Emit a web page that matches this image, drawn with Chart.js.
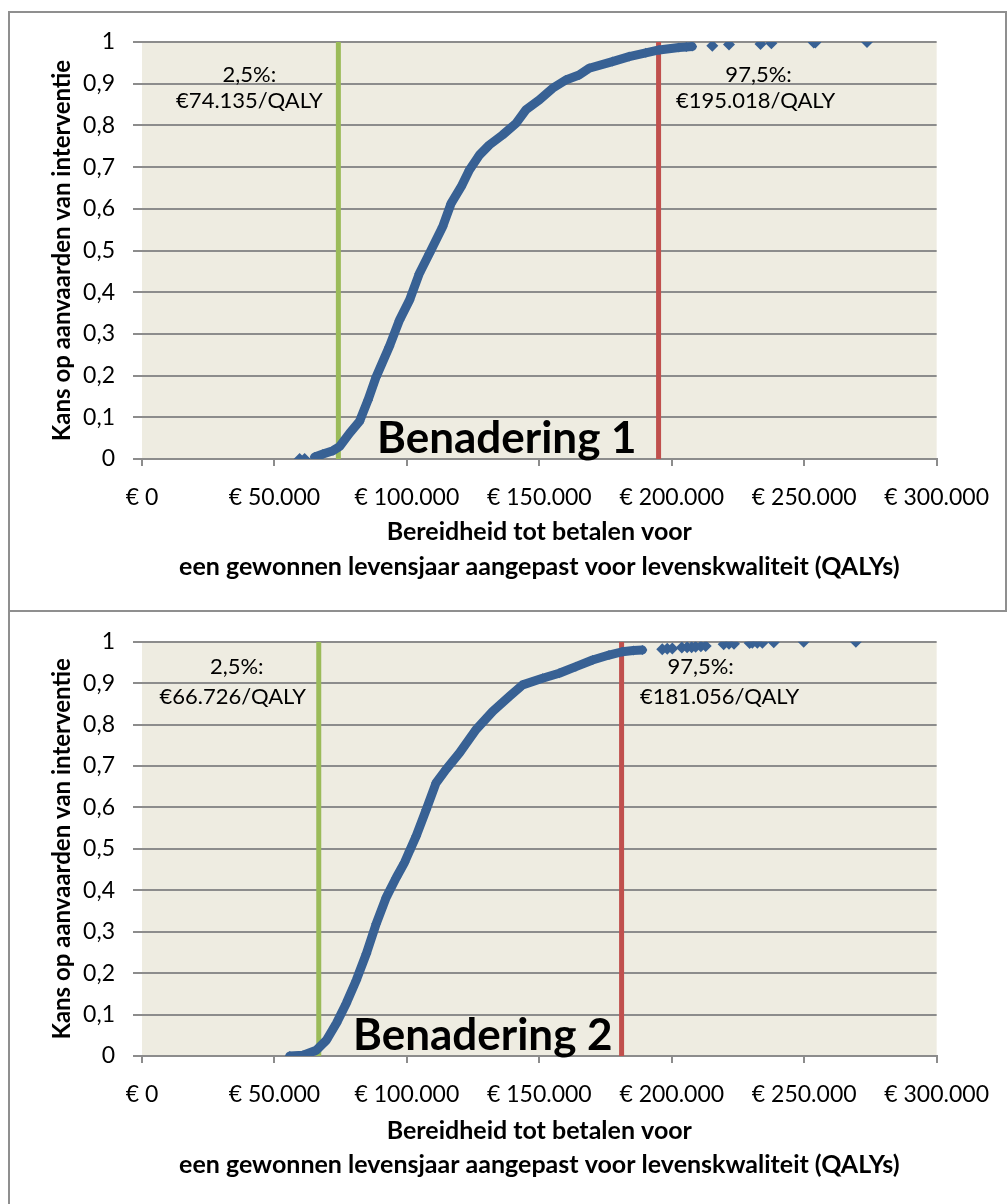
<!DOCTYPE html>
<html>
<head>
<meta charset="utf-8">
<title>Kans op aanvaarden van interventie</title>
<script src="https://cdn.jsdelivr.net/npm/chart.js@4.4.1/dist/chart.umd.min.js"></script>
<style>
  html, body { margin: 0; padding: 0; background: #fff; }
  body { position: relative; width: 1007px; height: 1204px; overflow: hidden; }
  canvas { position: absolute; left: 0; }
  #c1 { top: 0; }
  #c2 { top: 610px; }
  .box { position: absolute; border: 2px solid #8f8f8f; box-sizing: border-box; }
  #box1 { left: 8px; top: 11px; width: 999px; height: 601px; }
  #box2 { left: 8px; top: 610px; width: 1010px; height: 610px; }
</style>
</head>
<body>
<div class="box" id="box1"></div>
<div class="box" id="box2"></div>
<canvas id="c1" width="1007" height="610"></canvas>
<canvas id="c2" width="1007" height="594"></canvas>
<script>
// tick labels
const xTicks = [0, 50000, 100000, 150000, 200000, 250000, 300000];
const yTicks = [0, 0.1, 0.2, 0.3, 0.4, 0.5, 0.6, 0.7, 0.8, 0.9, 1];

// Benadering 1: dense part of the curve (WTP in euro, cumulative probability)
const wtp1 = [65200, 68300, 72100, 74600, 78400, 82100, 85300, 88400, 93400, 97200,
  101000, 104700, 108500, 113500, 116700, 120500, 123600, 127400, 131100, 136100,
  141200, 144900, 150000, 155000, 160000, 165000, 168800, 177600, 183900, 190200,
  195200, 202700, 205500, 207700];
const prob1 = [0.005, 0.012, 0.02, 0.03, 0.062, 0.09, 0.141, 0.197, 0.27, 0.333,
  0.381, 0.445, 0.493, 0.557, 0.613, 0.653, 0.693, 0.729, 0.753, 0.777,
  0.805, 0.837, 0.861, 0.889, 0.909, 0.921, 0.937, 0.953, 0.965, 0.974,
  0.981, 0.987, 0.988, 0.989];
// Benadering 1: loose simulation points
const wtp1Loose = [59500, 61400, 215300, 221600, 233500, 237600, 253600, 254200, 273700];
const prob1Loose = [0, 0, 0.991, 0.994, 0.995, 0.997, 0.999, 0.999, 1];

// Benadering 2
const wtp2 = [55800, 60800, 65800, 69600, 73400, 77100, 80900, 84700, 88400, 92200,
  96000, 99100, 101000, 103500, 107300, 111000, 114800, 119800, 126100, 132400,
  138700, 143700, 151200, 157500, 163800, 170100, 176300, 181300, 185500, 188900];
const prob2 = [0, 0.002, 0.014, 0.038, 0.079, 0.127, 0.183, 0.247, 0.319, 0.383,
  0.431, 0.467, 0.495, 0.531, 0.595, 0.659, 0.692, 0.731, 0.788, 0.832,
  0.868, 0.896, 0.912, 0.924, 0.94, 0.956, 0.968, 0.976, 0.979, 0.98];
const wtp2Loose = [196400, 198300, 200200, 203800, 205800, 207500, 209000, 211000, 212800,
  219600, 221600, 223500, 229400, 230400, 232300, 234200, 238500, 249800, 269500];
const prob2Loose = [0.982, 0.983, 0.984, 0.986, 0.987, 0.987, 0.988, 0.989, 0.99,
  0.994, 0.995, 0.995, 0.997, 0.998, 0.998, 0.998, 0.999, 1, 1];

// 2,5% and 97,5% percentiles
const lower1 = 74135, upper1 = 195018;
const lower2 = 66726, upper2 = 181056;

const blue = "#386194";
const fontFamily = "Lato, 'Open Sans', sans-serif";

function toPoints(xs, ys) {
  return xs.map((x, i) => ({ x: x, y: ys[i] }));
}

function euro(v) {
  return "€ " + String(v).replace(/\B(?=(\d{3})+(?!\d))/g, ".");
}

function euroLabel(v) {
  return "€" + String(v).replace(/\B(?=(\d{3})+(?!\d))/g, ".") + "/QALY";
}

const plotBackground = {
  id: "plotBackground",
  beforeDraw(chart) {
    const { ctx, chartArea } = chart;
    ctx.save();
    ctx.fillStyle = "#EEECE1";
    ctx.fillRect(chartArea.left, chartArea.top, chartArea.right - chartArea.left, chartArea.bottom - chartArea.top);
    ctx.restore();
  },
};

const chartTexts = {
  id: "chartTexts",
  afterDraw(chart, args, opts) {
    const { ctx, scales, chartArea } = chart;
    const x = scales.x;
    ctx.save();
    ctx.fillStyle = "#000";
    ctx.textBaseline = "middle";
    ctx.textAlign = "center";

    // percentile labels
    ctx.font = "22px " + fontFamily;
    const lx = x.getPixelForValue(opts.lower);
    const ux = x.getPixelForValue(opts.upper);
    ctx.fillText("2,5%:", lx + opts.lowOff[0], opts.rowY[0]);
    ctx.fillText(euroLabel(opts.lower), lx + opts.lowOff[1], opts.rowY[1]);
    ctx.fillText("97,5%:", ux + opts.upOff[0], opts.rowY[0]);
    ctx.fillText(euroLabel(opts.upper), ux + opts.upOff[1], opts.rowY[1]);

    // big name of the approach
    ctx.font = "bold 44px " + fontFamily;
    ctx.textAlign = "left";
    ctx.textBaseline = "alphabetic";
    ctx.fillText(opts.name, opts.nameX, opts.nameY);

    // x axis title, centred under the plot
    const cx = (chartArea.left + chartArea.right) / 2;
    ctx.font = "bold 25px " + fontFamily;
    ctx.textAlign = "center";
    ctx.textBaseline = "middle";
    ctx.fillText("Bereidheid tot betalen voor", cx, opts.titleY[0]);
    ctx.fillText("een gewonnen levensjaar aangepast voor levenskwaliteit (QALYs)", cx, opts.titleY[1]);
    ctx.restore();
  },
};

function makeChart(id, dense, loose, lower, upper, axisHeight, texts) {
  const ctx = document.getElementById(id).getContext("2d");
  return new Chart(ctx, {
    type: "scatter",
    data: {
      datasets: [
        {
          label: "dense",
          data: dense,
          showLine: true,
          borderColor: blue,
          borderWidth: 9,
          borderCapStyle: "round",
          borderJoinStyle: "round",
          backgroundColor: blue,
          pointStyle: "rectRot",
          pointRadius: 5,
          pointBorderWidth: 0,
        },
        {
          label: "loose",
          data: loose,
          showLine: false,
          backgroundColor: blue,
          borderColor: blue,
          pointStyle: "rectRot",
          pointRadius: 6,
          pointBorderWidth: 0,
        },
        {
          label: "2,5%",
          data: [{ x: lower, y: 0 }, { x: lower, y: 1 }],
          showLine: true,
          borderColor: "#9BBB59",
          borderWidth: 5,
          pointRadius: 0,
        },
        {
          label: "97,5%",
          data: [{ x: upper, y: 0 }, { x: upper, y: 1 }],
          showLine: true,
          borderColor: "#C0504D",
          borderWidth: 5,
          pointRadius: 0,
        },
      ],
    },
    options: {
      responsive: false,
      animation: false,
      layout: { padding: { left: 0, top: texts.top, right: 66, bottom: 0 } },
      plugins: {
        legend: { display: false },
        tooltip: { enabled: false },
        chartTexts: texts,
      },
      scales: {
        x: {
          type: "linear",
          min: 0,
          max: 300000,
          afterBuildTicks: (scale) => {
            scale.ticks = xTicks.map((v) => ({ value: v }));
          },
          afterFit: (scale) => {
            scale.height = axisHeight;
          },
          ticks: {
            callback: (v) => euro(v),
            color: "#000",
            font: { family: fontFamily, size: 23 },
            padding: 18,
            maxRotation: 0,
          },
          grid: {
            drawOnChartArea: false,
            drawTicks: true,
            tickLength: 7,
            color: "#8c8c8c",
            lineWidth: 2,
          },
          border: { color: "#8c8c8c", width: 2 },
        },
        y: {
          type: "linear",
          min: 0,
          max: 1,
          afterBuildTicks: (scale) => {
            scale.ticks = yTicks.map((v) => ({ value: v }));
          },
          afterFit: (scale) => {
            scale.width = 142;
          },
          ticks: {
            callback: (v) => String(Math.round(v * 10) / 10).replace(".", ","),
            color: "#000",
            font: { family: fontFamily, size: 23 },
            padding: 18,
          },
          grid: {
            color: "#8c8c8c",
            lineWidth: 2,
            tickLength: 9,
          },
          border: { display: false },
          title: {
            display: true,
            text: "Kans op aanvaarden van interventie",
            color: "#000",
            font: { family: fontFamily, size: 24, weight: "bold" },
            padding: { top: 48, bottom: 0 },
          },
        },
      },
    },
    plugins: [plotBackground, chartTexts],
  });
}

makeChart("c1", toPoints(wtp1, prob1), toPoints(wtp1Loose, prob1Loose), lower1, upper1, 151, {
  top: 42,
  lower: lower1,
  upper: upper1,
  lowOff: [-89, -89],
  upOff: [100, 97],
  rowY: [75, 101],
  name: "Benadering 1",
  nameX: 377,
  nameY: 453,
  titleY: [532, 567],
});

makeChart("c2", toPoints(wtp2, prob2), toPoints(wtp2Loose, prob2Loose), lower2, upper2, 148, {
  top: 30,
  lower: lower2,
  upper: upper2,
  lowOff: [-82, -86],
  upOff: [79, 98],
  rowY: [57, 87],
  name: "Benadering 2",
  nameX: 353,
  nameY: 440,
  titleY: [521, 555],
});
</script>
</body>
</html>
